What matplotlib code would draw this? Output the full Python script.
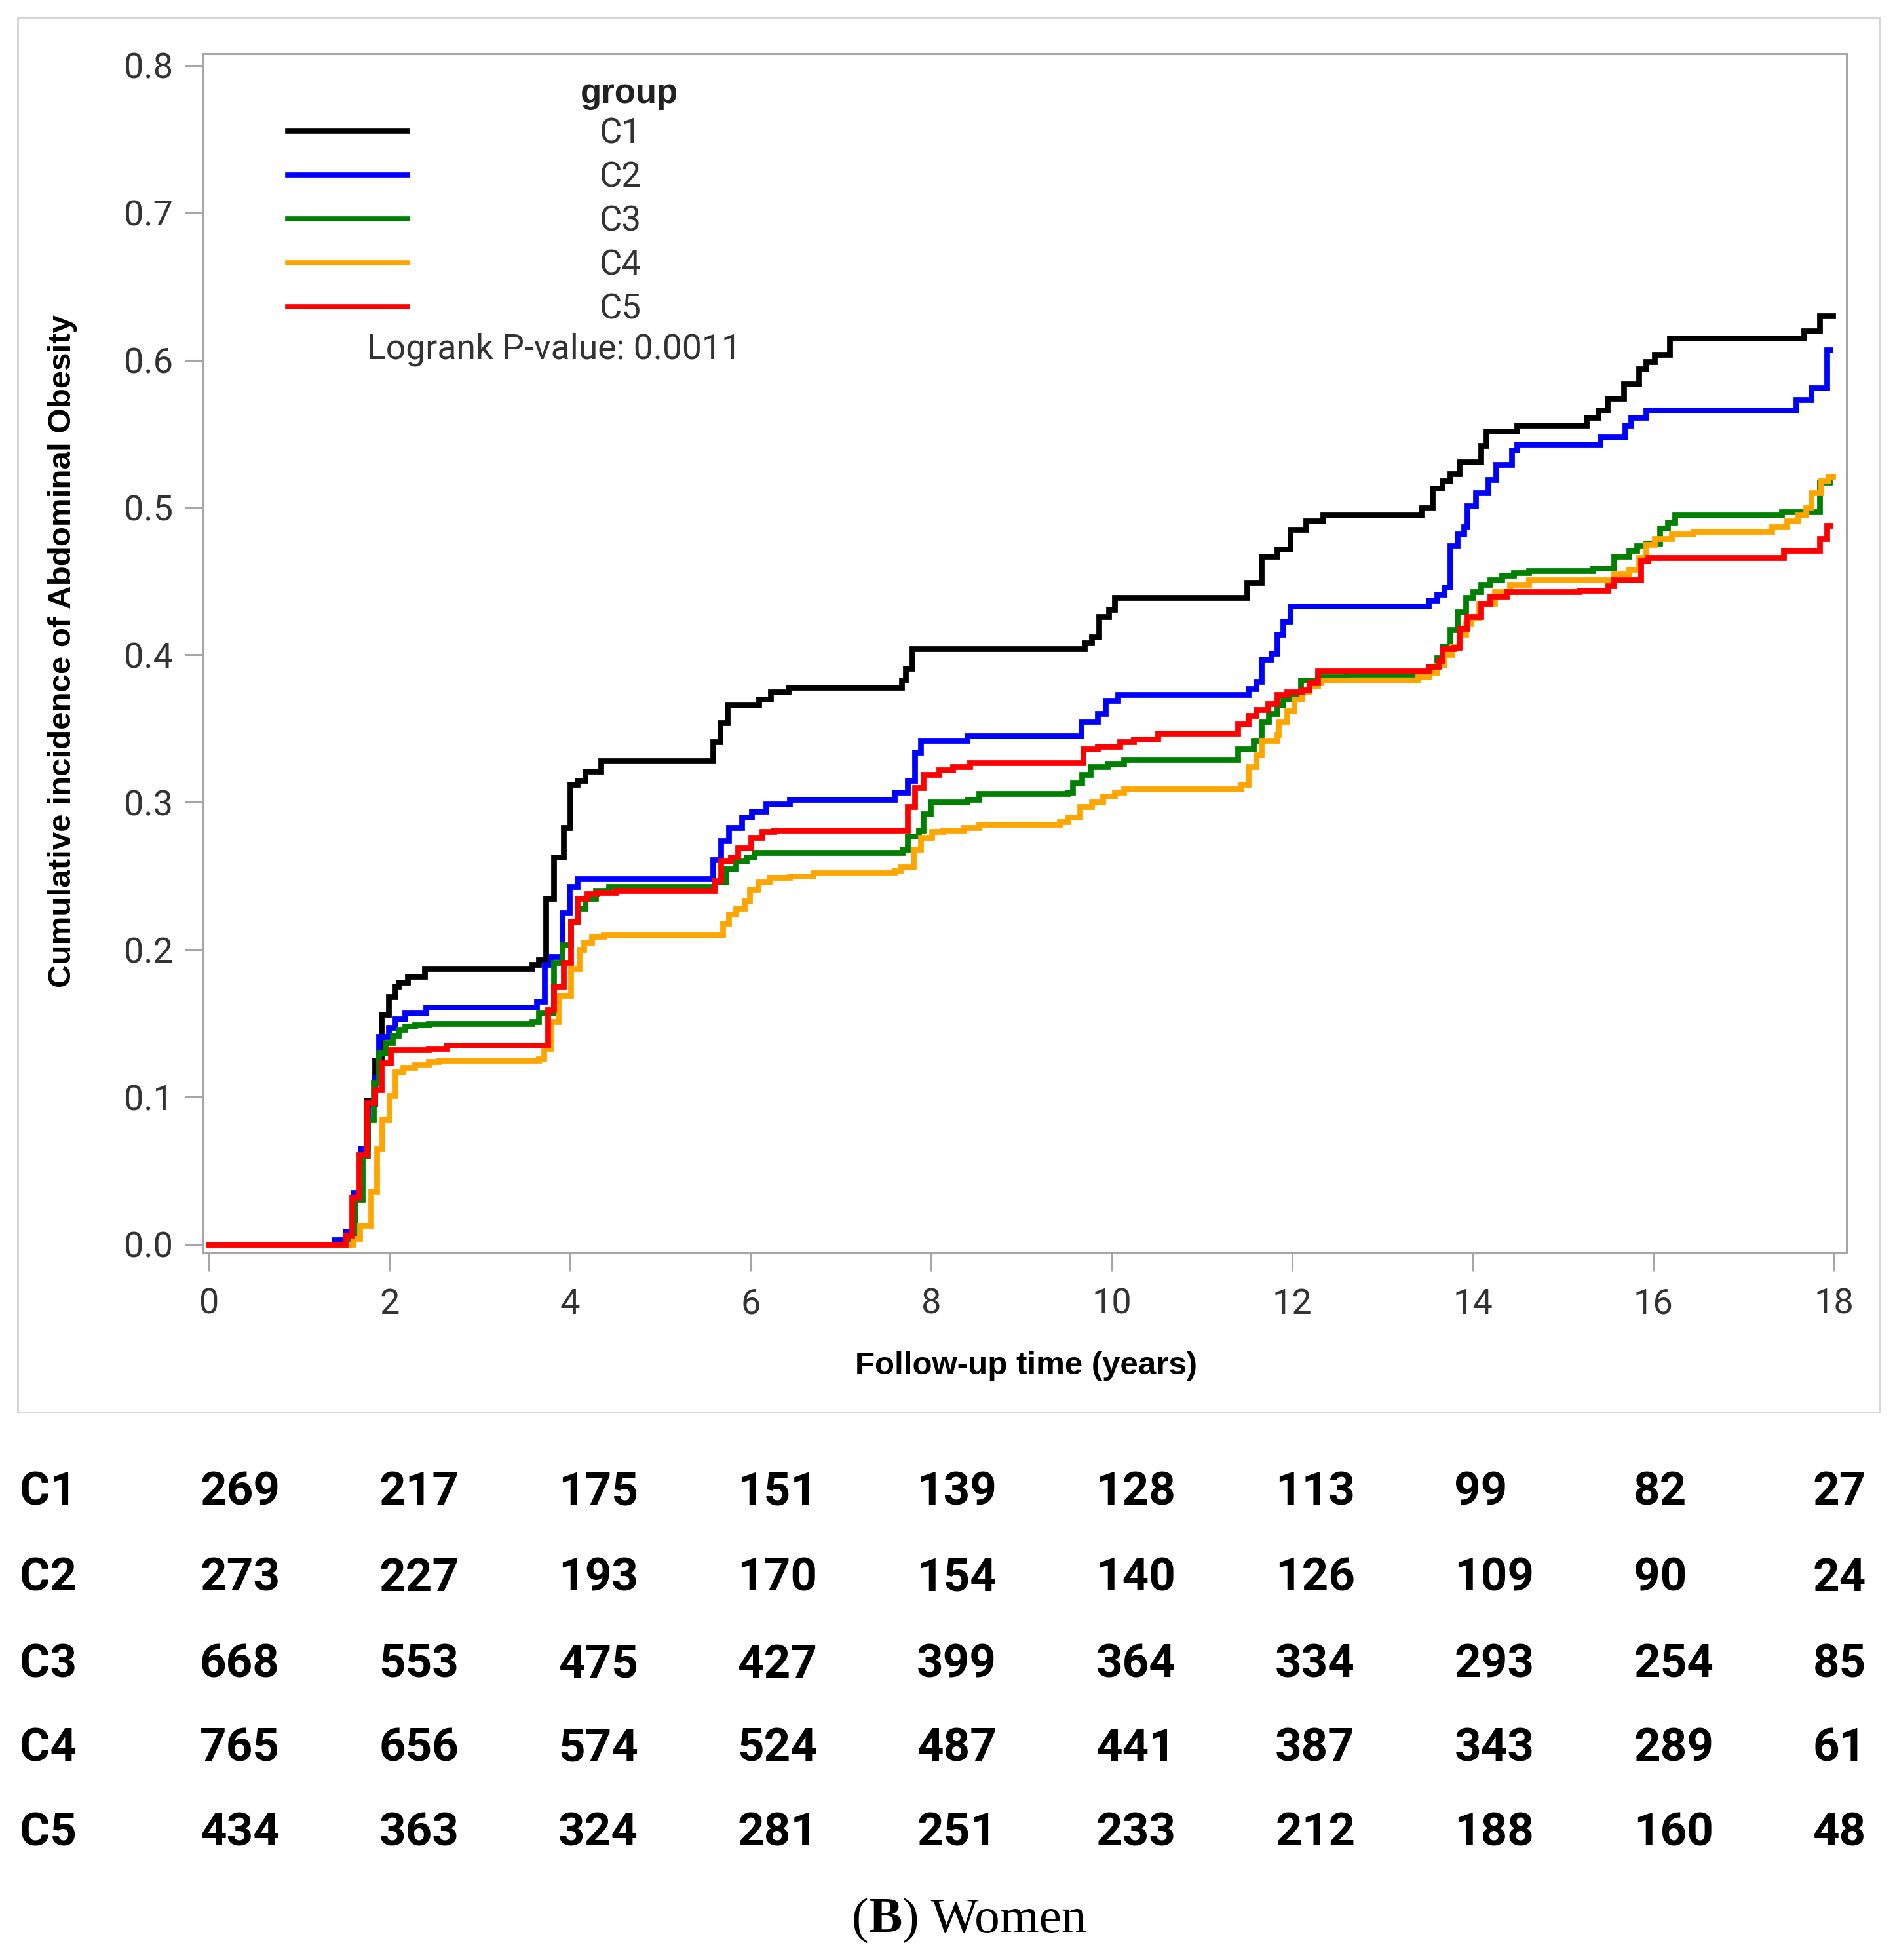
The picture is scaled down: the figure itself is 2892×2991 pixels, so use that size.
import matplotlib
matplotlib.use('Agg')
import matplotlib.pyplot as plt
from matplotlib.patches import Rectangle

# groups and colours
groups = ['C1', 'C2', 'C3', 'C4', 'C5']
colors = ['#000000', '#0000ff', '#008000', '#ffa500', '#ff0000']

# step curves (time in years, cumulative incidence)
c1_time = [0, 1.51, 1.60, 1.68, 1.74, 1.84, 1.91, 1.99, 2.06, 2.10, 2.20, 2.39,
           3.58, 3.65, 3.73, 3.82, 3.93, 4.00, 4.08, 4.17, 4.34, 5.58, 5.66,
           5.74, 6.09, 6.22, 6.42, 7.67, 7.72, 7.79, 9.70, 9.78, 9.86, 9.97,
           10.03, 11.50, 11.66, 11.83, 11.98, 12.15, 12.34, 13.43, 13.55,
           13.66, 13.75, 13.85, 14.09, 14.15, 14.49, 15.26, 15.39, 15.49,
           15.67, 15.84, 15.92, 16.01, 16.18, 17.67, 17.84, 17.99]
c1_inc = [0, 0.006, 0.033, 0.065, 0.098, 0.125, 0.156, 0.168, 0.175, 0.178,
          0.182, 0.187, 0.190, 0.193, 0.235, 0.263, 0.283, 0.312, 0.315,
          0.321, 0.328, 0.341, 0.354, 0.366, 0.370, 0.375, 0.378, 0.383,
          0.391, 0.404, 0.408, 0.412, 0.426, 0.431, 0.439, 0.449, 0.467,
          0.472, 0.485, 0.491, 0.495, 0.500, 0.513, 0.518, 0.523, 0.531,
          0.542, 0.552, 0.556, 0.561, 0.566, 0.574, 0.584, 0.594, 0.599,
          0.604, 0.615, 0.620, 0.630, 0.630]

c2_time = [0, 1.39, 1.51, 1.60, 1.68, 1.76, 1.84, 1.88, 1.99, 2.06, 2.17,
           2.40, 3.63, 3.72, 3.78, 3.91, 3.99, 4.08, 5.58, 5.67, 5.76, 5.90,
           6.01, 6.17, 6.43, 7.59, 7.74, 7.82, 7.88, 8.40, 9.66, 9.84, 9.93,
           10.07, 11.51, 11.60, 11.66, 11.77, 11.83, 11.90, 11.98, 13.51,
           13.60, 13.68, 13.75, 13.83, 13.90, 13.94, 14.03, 14.17, 14.26,
           14.43, 14.49, 15.41, 15.69, 15.75, 15.92, 17.58, 17.75, 17.92,
           17.96]
c2_inc = [0, 0.003, 0.009, 0.035, 0.065, 0.095, 0.113, 0.141, 0.147, 0.153,
          0.157, 0.161, 0.165, 0.190, 0.195, 0.225, 0.243, 0.248, 0.261,
          0.274, 0.283, 0.290, 0.294, 0.299, 0.302, 0.307, 0.315, 0.334,
          0.342, 0.345, 0.355, 0.360, 0.369, 0.373, 0.377, 0.382, 0.397,
          0.401, 0.414, 0.423, 0.433, 0.437, 0.441, 0.446, 0.474, 0.482,
          0.487, 0.501, 0.510, 0.519, 0.529, 0.539, 0.543, 0.548, 0.556,
          0.561, 0.566, 0.573, 0.581, 0.607, 0.607]

c3_time = [0, 1.55, 1.62, 1.70, 1.76, 1.82, 1.88, 1.95, 2.03, 2.10, 2.17,
           2.28, 2.43, 3.58, 3.65, 3.82, 3.91, 4.01, 4.08, 4.17, 4.28, 4.43,
           5.60, 5.73, 5.84, 5.95, 6.04, 7.68, 7.74, 7.86, 7.91, 7.99, 8.40,
           8.53, 9.51, 9.57, 9.67, 9.76, 9.95, 10.13, 11.40, 11.57, 11.66,
           11.74, 11.83, 11.90, 11.98, 12.09, 12.28, 12.60, 13.51, 13.60,
           13.66, 13.75, 13.83, 13.92, 14.00, 14.09, 14.19, 14.32, 14.45,
           14.62, 15.33, 15.56, 15.73, 15.82, 15.92, 16.07, 16.16, 16.24,
           17.42, 17.84, 17.95]
c3_inc = [0, 0.005, 0.030, 0.060, 0.085, 0.110, 0.130, 0.137, 0.142, 0.146,
          0.148, 0.149, 0.150, 0.151, 0.157, 0.191, 0.203, 0.219, 0.228,
          0.235, 0.240, 0.243, 0.246, 0.255, 0.260, 0.263, 0.266, 0.268,
          0.277, 0.281, 0.292, 0.300, 0.302, 0.306, 0.307, 0.313, 0.319,
          0.324, 0.326, 0.329, 0.336, 0.342, 0.355, 0.360, 0.366, 0.370,
          0.372, 0.383, 0.385, 0.387, 0.392, 0.398, 0.406, 0.417, 0.429,
          0.439, 0.443, 0.448, 0.451, 0.454, 0.456, 0.457, 0.459, 0.467,
          0.471, 0.474, 0.476, 0.486, 0.490, 0.495, 0.497, 0.517, 0.518]

c4_time = [0, 1.60, 1.67, 1.79, 1.86, 1.92, 2.00, 2.06, 2.15, 2.28, 2.43,
           2.54, 3.65, 3.71, 3.78, 3.87, 4.01, 4.10, 4.15, 4.24, 4.37, 5.69,
           5.76, 5.84, 5.93, 5.99, 6.08, 6.21, 6.43, 6.69, 7.59, 7.66, 7.80,
           7.88, 8.01, 8.13, 8.36, 8.53, 9.42, 9.52, 9.65, 9.78, 9.90, 10.03,
           10.13, 11.43, 11.51, 11.60, 11.66, 11.83, 11.85, 11.94, 12.02,
           12.11, 12.19, 12.28, 12.32, 13.39, 13.51, 13.60, 13.68, 13.77,
           13.85, 13.92, 13.98, 14.07, 14.24, 14.41, 14.62, 15.56, 15.73,
           15.84, 15.92, 16.01, 16.20, 16.44, 17.31, 17.48, 17.60, 17.69,
           17.75, 17.86, 17.94, 17.99]
c4_inc = [0, 0.004, 0.013, 0.036, 0.065, 0.085, 0.101, 0.117, 0.120, 0.122,
          0.124, 0.125, 0.126, 0.133, 0.151, 0.169, 0.187, 0.200, 0.205,
          0.209, 0.210, 0.218, 0.224, 0.228, 0.233, 0.241, 0.246, 0.249,
          0.250, 0.252, 0.254, 0.256, 0.268, 0.276, 0.280, 0.281, 0.283,
          0.285, 0.287, 0.290, 0.297, 0.300, 0.304, 0.307, 0.309, 0.312,
          0.324, 0.332, 0.342, 0.346, 0.355, 0.362, 0.370, 0.375, 0.379,
          0.381, 0.383, 0.385, 0.388, 0.393, 0.400, 0.406, 0.414, 0.421,
          0.425, 0.435, 0.443, 0.448, 0.451, 0.455, 0.458, 0.466, 0.475,
          0.479, 0.482, 0.484, 0.487, 0.491, 0.495, 0.500, 0.510, 0.518,
          0.521, 0.521]

c5_time = [0, 1.51, 1.58, 1.66, 1.75, 1.84, 1.91, 2.01, 2.43, 2.63, 3.75,
           3.82, 3.93, 4.01, 4.08, 4.19, 4.30, 4.50, 5.60, 5.67, 5.78, 5.86,
           6.00, 6.13, 6.26, 7.74, 7.82, 7.91, 8.09, 8.24, 8.43, 9.68, 9.84,
           10.09, 10.24, 10.51, 11.40, 11.51, 11.60, 11.73, 11.83, 11.94,
           12.11, 12.19, 12.28, 13.51, 13.62, 13.66, 13.79, 13.85, 13.94,
           14.09, 14.19, 14.37, 15.18, 15.50, 15.56, 15.86, 15.94, 17.44,
           17.84, 17.92, 17.96]
c5_inc = [0, 0.006, 0.032, 0.061, 0.096, 0.105, 0.123, 0.132, 0.133, 0.135,
          0.159, 0.175, 0.191, 0.219, 0.235, 0.238, 0.239, 0.240, 0.247,
          0.260, 0.263, 0.269, 0.276, 0.280, 0.281, 0.297, 0.310, 0.319,
          0.322, 0.324, 0.327, 0.336, 0.338, 0.341, 0.343, 0.347, 0.353,
          0.359, 0.363, 0.367, 0.373, 0.375, 0.376, 0.381, 0.389, 0.392,
          0.396, 0.404, 0.405, 0.418, 0.426, 0.435, 0.440, 0.443, 0.444,
          0.447, 0.451, 0.464, 0.466, 0.471, 0.479, 0.488, 0.488]

# number at risk
risk_times = [0, 2, 4, 6, 8, 10, 12, 14, 16, 18]
c1_risk = [269, 217, 175, 151, 139, 128, 113, 99, 82, 27]
c2_risk = [273, 227, 193, 170, 154, 140, 126, 109, 90, 24]
c3_risk = [668, 553, 475, 427, 399, 364, 334, 293, 254, 85]
c4_risk = [765, 656, 574, 524, 487, 441, 387, 343, 289, 61]
c5_risk = [434, 363, 324, 281, 251, 233, 212, 188, 160, 48]

y_ticks = [0.0, 0.1, 0.2, 0.3, 0.4, 0.5, 0.6, 0.7, 0.8]
x_ticks = [0, 2, 4, 6, 8, 10, 12, 14, 16, 18]

times = [c1_time, c2_time, c3_time, c4_time, c5_time]
incs = [c1_inc, c2_inc, c3_inc, c4_inc, c5_inc]
risks = [c1_risk, c2_risk, c3_risk, c4_risk, c5_risk]

W, H = 2892, 2991
fig = plt.figure(figsize=(W / 100, H / 100), dpi=100)

# light frame round the plot panel
fig.add_artist(Rectangle((27 / W, 1 - 2155 / H), (2869 - 27) / W, (2155 - 27) / H,
                         transform=fig.transFigure, fill=False,
                         edgecolor='#d6d6d6', linewidth=2.2))

ax = fig.add_axes([310 / W, 1 - 1912 / H, (2818 - 310) / W, (1912 - 82) / H])

lines = []
for t, v, c, g in zip(times, incs, colors, groups):
    ln, = ax.plot(t, v, drawstyle='steps-post', color=c, linewidth=6.3,
                  solid_joinstyle='miter', label=g)
    lines.append(ln)

ax.set_xlim(-0.065, 18.14)
ax.set_ylim(-0.0058, 0.808)
ax.set_xticks(x_ticks)
ax.set_yticks(y_ticks)
ax.set_xticklabels([str(x) for x in x_ticks])
ax.set_yticklabels(['%.1f' % y for y in y_ticks])

axis_gray = '#a3a6aa'
for s in ax.spines.values():
    s.set_color(axis_gray)
    s.set_linewidth(2.2)
ax.tick_params(length=20, width=2.2, color=axis_gray, labelcolor='#333333',
               labelsize=39)
ax.tick_params(axis='y', pad=13)
ax.tick_params(axis='x', pad=18)
for lab in ax.get_xticklabels() + ax.get_yticklabels():
    lab.set_family('Roboto')

ax.set_xlabel('Follow-up time (years)', family='Liberation Sans',
              weight='bold', fontsize=35.5, va='center')
ax.xaxis.set_label_coords(0.501, -0.0945)
ax.set_ylabel('Cumulative incidence of Abdominal Obesity',
              family='Liberation Sans', weight='bold', fontsize=35.5,
              va='center')
ax.yaxis.set_label_coords(-0.0857, 0.502)

# legend
leg = ax.legend(handles=lines, loc='center left',
                bbox_to_anchor=(0.0514, 0.8602), frameon=False,
                prop={'family': 'Roboto', 'size': 38},
                handlelength=3.47, handletextpad=5.55, labelspacing=0.3,
                borderpad=0, borderaxespad=0)
for txt in leg.get_texts():
    txt.set_color('#333333')
for h in leg.legend_handles:
    h.set_linewidth(5.5)
ax.text(0.2592, 0.9667, 'group', transform=ax.transAxes, ha='center',
        va='center', family='Liberation Sans', weight='bold', fontsize=38,
        color='#222222')
ax.text(0.0997, 0.7536, 'Logrank P-value: 0.0011', transform=ax.transAxes,
        ha='left', va='center', family='Roboto', fontsize=38.5, color='#333333')

# number-at-risk table
row_y = [2277, 2408, 2540, 2668, 2797]
for g, r, yy in zip(groups, risks, row_y):
    fig.text(30 / W, 1 - yy / H, g, ha='left', va='center',
             family='Roboto', weight='bold', fontsize=51)
    for i, n in enumerate(r):
        fig.text((305 + 273.5 * i) / W, 1 - yy / H, str(n), ha='left',
                 va='center', family='Roboto', weight='bold', fontsize=51)

# caption "(B) Women"
fig.canvas.draw()
rend = fig.canvas.get_renderer()
cap_y = 1 - 2930 / H
x = 1300 / W
for part, wt in [('(', 'normal'), ('B', 'bold'), (') Women', 'normal')]:
    t = fig.text(x, cap_y, part, ha='left', va='center',
                 family='Liberation Serif', weight=wt, fontsize=55.5)
    x = fig.transFigure.inverted().transform(
        (t.get_window_extent(rend).x1, 0))[0]

fig.savefig('out.png', dpi=100, facecolor='white')
